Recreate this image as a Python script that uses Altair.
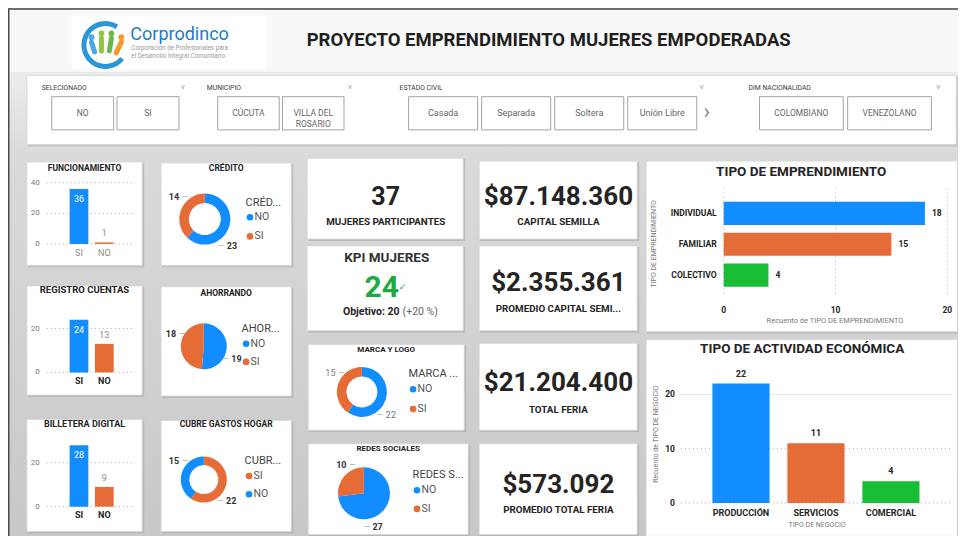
import altair as alt
import pandas as pd

# ---------------- data ----------------
slicer_titles = ["SELECIONADO", "MUNICIPIO", "ESTADO CIVIL", "DIM NACIONALIDAD"]
slicer_selecionado = ["NO", "SI"]
slicer_municipio = ["CÚCUTA", "VILLA DEL ROSARIO"]
slicer_estado_civil = ["Casada", "Separada", "Soltera", "Unión Libre"]
slicer_nacionalidad = ["COLOMBIANO", "VENEZOLANO"]

bar_cats = ["SI", "NO"]
funcionamiento = [36, 1]
registro_cuentas = [24, 13]
billetera_digital = [28, 9]
ticks_40 = [0, 20, 40]
ticks_20 = [0, 20]

pie_cats = ["NO", "SI"]
credito = [23, 14]
ahorrando = [19, 18]
cubre_cats = ["SI", "NO"]
cubre_gastos = [22, 15]
marca_logo = [22, 15]
redes_sociales = [27, 10]

mujeres_participantes = 37
kpi_actual = 24
kpi_objetivo = 20
capital_semilla = 87148360
promedio_capital = 2355361
total_feria = 21204400
promedio_feria = 573092

emp_cats = ["INDIVIDUAL", "FAMILIAR", "COLECTIVO"]
emp_vals = [18, 15, 4]
emp_ticks = [0, 10, 20]
act_cats = ["PRODUCCIÓN", "SERVICIOS", "COMERCIAL"]
act_vals = [22, 11, 4]
act_ticks = [0, 10, 20]

# ---------------- layout helpers ----------------
W, H = 950, 528


def X(rx):
    return round((rx - 8) * 0.994, 1)


def Y(ry):
    return round((ry - 8) * 0.975, 1)


FONT = "Roboto"
DARK = "#252423"
BLUE, ORANGE, GREEN = "#118DFF", "#E66C37", "#17BE36"
ONE = pd.DataFrame({"k": [0]})


def T(s, x, y, size=9, color=DARK, weight="normal", align="center", angle=0, font=FONT):
    return alt.Chart(ONE).mark_text(
        text=s, font=font, fontSize=size, color=color, fontWeight=weight,
        align=align, baseline="middle", angle=angle
    ).encode(x=alt.value(X(x)), y=alt.value(Y(y)))


def R(x0, y0, x1, y1, fill, stroke=None, sw=1.0, opacity=1.0):
    kw = {"fill": fill, "opacity": opacity}
    if stroke:
        kw.update(stroke=stroke, strokeWidth=sw)
    return alt.Chart(ONE).mark_rect(**kw).encode(
        x=alt.value(X(x0)), x2=alt.value(X(x1)), y=alt.value(Y(y0)), y2=alt.value(Y(y1))
    )


def LINE(x0, y0, x1, y1, color, sw=1.0, cap="butt"):
    return alt.Chart(ONE).mark_rule(color=color, strokeWidth=sw, strokeCap=cap).encode(
        x=alt.value(X(x0)), x2=alt.value(X(x1)), y=alt.value(Y(y0)), y2=alt.value(Y(y1))
    )


def card(x0, y0, x1, y1):
    return [R(x0 + 1, y0 + 1, x1 + 2, y1 + 2, "#a8a8a8", opacity=0.55),
            R(x0, y0, x1, y1, "white", stroke="#d6d6d6", sw=0.8)]


def money(v):
    return "$" + f"{v:,}".replace(",", ".")


layers = []

# ---------------- background ----------------
layers.append(alt.Chart(ONE).mark_rect(fill=alt.Gradient(
    gradient="linear", x1=0, x2=0, y1=0, y2=1,
    stops=[alt.GradientStop(offset=0, color="#ececec"),
           alt.GradientStop(offset=0.18, color="#dadada"),
           alt.GradientStop(offset=1, color="#c8c8c8")])).encode(
    x=alt.value(0), x2=alt.value(W), y=alt.value(Y(74)), y2=alt.value(H)))
layers.append(R(0, 9, 980, 74, "#f8f8f8"))
layers.append(alt.Chart(ONE).mark_rule(color="#4a4a4a", strokeWidth=1.5).encode(
    x=alt.value(0), x2=alt.value(W), y=alt.value(Y(9))))
layers.append(alt.Chart(ONE).mark_rule(color="#4a4a4a", strokeWidth=1.5).encode(
    x=alt.value(0.75), y=alt.value(Y(9)), y2=alt.value(H)))

# ---------------- logo ----------------
layers.append(R(72, 16, 268, 70, "white"))
layers.append(alt.Chart(ONE).mark_arc(theta=2.25, theta2=6.85, innerRadius=19, outerRadius=24,
                                      color="#2C96D6").encode(x=alt.value(X(106)), y=alt.value(Y(46))))
for hx, hy, col, bx, by in [(92, 38, "#4AA8E2", 95, 53), (102, 34, "#8DC63F", 102, 52),
                            (112, 34, "#6CB843", 110, 52), (122, 38, "#F39A2B", 117, 54)]:
    layers.append(LINE(hx, hy + 5, bx, by, col, sw=5, cap="round"))
    layers.append(alt.Chart(ONE).mark_circle(size=34, opacity=1, color=col).encode(
        x=alt.value(X(hx)), y=alt.value(Y(hy))))
layers.append(T("Corprodinco", 131, 36, size=18, color="#1E7DC4", align="left"))
layers.append(T("Corporación de Profesionales para", 132, 49, size=6.3, color="#9a9a9a", align="left"))
layers.append(T("el Desarrollo Integral Comunitario", 132, 57, size=6.3, color="#9a9a9a", align="left"))

layers.append(T("PROYECTO EMPRENDIMIENTO MUJERES EMPODERADAS", 552, 41, size=18.5,
                weight="bold", color="#1f1f1f"))

# ---------------- filter bar ----------------
layers.append(R(28, 78, 964, 150, "#b9b9b9", opacity=0.6))
layers.append(R(27, 77, 962, 148, "white", stroke="#d0d0d0", sw=0.8))


def slicer(title, items, tx, chev_x, x0, x1, pad, font_size=8.5):
    L = [T(title, tx, 90, size=6.8, color="#3a3a3a", align="left"),
         T("v", chev_x, 89, size=8, color="#9a9a9a")]
    df = pd.DataFrame({"item": items})
    xs = alt.Scale(type="band", domain=items, range=[X(x0), X(x1)], paddingInner=pad, paddingOuter=0)
    boxes = alt.Chart(df).mark_bar(fill="white", stroke="#a3a3a3", strokeWidth=1).encode(
        x=alt.X("item:N", scale=xs, axis=None), y=alt.value(Y(99)), y2=alt.value(Y(133)))
    labels = alt.Chart(df).transform_calculate(
        lab="replace(datum.item, 'DEL ', 'DEL\\n')").mark_text(
        font=FONT, fontSize=font_size, color="#666666", lineBreak="\n", baseline="middle").encode(
        x=alt.X("item:N", scale=xs, axis=None), y=alt.value(Y(116)), text="lab:N")
    return alt.layer(*L, boxes, labels)


layers.append(slicer(slicer_titles[0], slicer_selecionado, 42, 184, 52, 180, 0.05))
layers.append(slicer(slicer_titles[1], slicer_municipio, 208, 352, 219, 346, 0.05))
layers.append(slicer(slicer_titles[2], slicer_estado_civil, 402, 706, 411, 701, 0.055, font_size=9))
layers.append(slicer(slicer_titles[3], slicer_nacionalidad, 753, 944, 764, 937, 0.05))
layers.append(T("›", 711, 115, size=22, color="#8a8a8a"))


# ---------------- small bar panels ----------------
def vbar_small(title, tsize, tyy, vals, ticks, ymap, box, lab_y, lab_bold):
    (v0, p0), (v1, p1) = ymap
    ys = alt.Scale(domain=[v0, v1], range=[Y(p0), Y(p1)], nice=False, zero=False)
    xs = alt.Scale(type="band", domain=bar_cats, range=[X(70), X(114.3)], paddingInner=0.26, paddingOuter=0)
    cs = alt.Scale(domain=bar_cats, range=[BLUE, ORANGE])
    df = pd.DataFrame({"c": bar_cats, "v": vals})
    tdf = pd.DataFrame({"t": ticks})
    L = card(*box)
    L.append(T(title, (box[0] + box[2]) / 2, tyy, size=tsize, weight="bold"))
    grid = alt.Chart(tdf).mark_rule(color="#a8a8a8", strokeDash=[1, 3], strokeWidth=1).encode(
        y=alt.Y("t:Q", scale=ys, axis=None), x=alt.value(X(47)), x2=alt.value(X(136)))
    tl = alt.Chart(tdf).mark_text(align="right", baseline="middle", font=FONT, fontSize=8,
                                  color="#7a7a7a").encode(
        y=alt.Y("t:Q", scale=ys, axis=None), x=alt.value(X(40)), text="t:Q")
    bars = alt.Chart(df).mark_bar().encode(
        x=alt.X("c:N", scale=xs, axis=None), y=alt.Y("v:Q", scale=ys, axis=None),
        color=alt.Color("c:N", scale=cs, legend=None))
    inside = alt.Chart(df).transform_filter(alt.datum.c == bar_cats[0]).mark_text(
        dy=10, color="white", font=FONT, fontSize=9, baseline="middle").encode(
        x=alt.X("c:N", scale=xs, axis=None), y=alt.Y("v:Q", scale=ys, axis=None), text="v:Q")
    outside = alt.Chart(df).transform_filter(alt.datum.c != bar_cats[0]).mark_text(
        dy=-9, color="#8a8a8a", font=FONT, fontSize=9, baseline="middle").encode(
        x=alt.X("c:N", scale=xs, axis=None), y=alt.Y("v:Q", scale=ys, axis=None), text="v:Q")
    xl = alt.Chart(df).mark_text(font=FONT, fontSize=9, baseline="middle",
                                 color=DARK if lab_bold else "#8a8a8a",
                                 fontWeight="bold" if lab_bold else "normal").encode(
        x=alt.X("c:N", scale=xs, axis=None), y=alt.value(Y(lab_y)), text="c:N")
    return alt.layer(*L, grid, tl, bars, inside, outside, xl)


layers.append(vbar_small("FUNCIONAMIENTO", 8.5, 172, funcionamiento, ticks_40,
                         ((0, 250), (40, 187.3)), (27, 166, 143, 272), 259, False))
layers.append(vbar_small("REGISTRO CUENTAS", 9.5, 297.5, registro_cuentas, ticks_20,
                         ((0, 381.7), (20, 336.7)), (27, 293, 143, 405), 390.7, True))
layers.append(vbar_small("BILLETERA DIGITAL", 9, 435, billetera_digital, ticks_20,
                         ((0, 519.5), (20, 474.5)), (27, 430, 143, 545), 528, True))


# ---------------- donut / pie panels ----------------
LABEL_FRACTION = 0.6  # where along each slice the outside label sits


def donut(title, tsize, tyy, cats, vals, box, c, r_out, r_in, lab_r, lab_bold, ltitle, lx, lty, ly0, ly1):
    cx, cy = c
    total = sum(vals)
    cs = alt.Scale(domain=["NO", "SI"], range=[BLUE, ORANGE])
    ths = alt.Scale(domain=[0, total])
    df = pd.DataFrame({"c": cats, "v": vals, "o": list(range(len(cats)))})
    L = card(*box)
    L.append(T(title, (box[0] + box[2]) / 2, tyy, size=tsize, weight="bold"))
    arcs = alt.Chart(df).mark_arc(outerRadius=r_out, innerRadius=r_in).encode(
        theta=alt.Theta("v:Q", stack=True, scale=ths), order=alt.Order("o:Q"),
        color=alt.Color("c:N", scale=cs, legend=None),
        x=alt.value(X(cx)), y=alt.value(Y(cy)))
    lab_base = alt.Chart(df).transform_window(
        cum="sum(v)", sort=[alt.SortField("o")], frame=[None, 0]
    ).transform_calculate(
        pos=f"datum.cum - datum.v + {LABEL_FRACTION} * datum.v"
    )
    enc = dict(theta=alt.Theta("pos:Q", stack=False, scale=ths),
               x=alt.value(X(cx)), y=alt.value(Y(cy)))
    labs = lab_base.mark_text(radius=lab_r, font=FONT, fontSize=9, baseline="middle",
                              color="#333333" if lab_bold else "#7a7a7a",
                              fontWeight="bold" if lab_bold else "normal").encode(text="v:Q", **enc)
    # short leader strokes beside each label (left-side labels get it on the right, and vice versa)
    lead_l = lab_base.transform_filter(f"datum.pos > {total / 2}").mark_text(
        radius=lab_r, dx=11, text="—", font=FONT, fontSize=8, color="#9a9a9a",
        baseline="middle").encode(**enc)
    lead_r = lab_base.transform_filter(f"datum.pos <= {total / 2}").mark_text(
        radius=lab_r, dx=-11, text="—", font=FONT, fontSize=8, color="#9a9a9a",
        baseline="middle").encode(**enc)
    ldf = pd.DataFrame({"c": cats})
    lys = alt.Scale(type="point", domain=cats, range=[Y(ly0), Y(ly1)], padding=0)
    dots = alt.Chart(ldf).mark_circle(size=44, opacity=1).encode(
        x=alt.value(X(lx + 4.5)), y=alt.Y("c:N", scale=lys, axis=None),
        color=alt.Color("c:N", scale=cs, legend=None))
    ltx = alt.Chart(ldf).mark_text(align="left", baseline="middle", font=FONT, fontSize=10.5,
                                   color="#555555").encode(
        x=alt.value(X(lx + 9)), y=alt.Y("c:N", scale=lys, axis=None), text="c:N")
    lt = T(ltitle, lx, lty, size=11, color="#444444", align="left")
    return alt.layer(*L, arcs, lead_l, lead_r, labs, lt, dots, ltx)


layers.append(donut("CRÉDITO", 8.5, 172, pie_cats, credito, (162, 167, 293, 272), (206, 224.5),
                    25.5, 16, 38, True, "CRÉD...", 247, 208, 222.7, 242.3))
layers.append(donut("AHORRANDO", 8.5, 300, pie_cats, ahorrando, (162, 294, 293, 406), (205, 355),
                    23, 0, 35, True, "AHOR...", 243, 337, 352.3, 371))
layers.append(donut("CUBRE GASTOS HOGAR", 8.5, 435, cubre_cats, cubre_gastos, (162, 431, 293, 545),
                    (205, 491.7), 23, 14.5, 35, True, "CUBR...", 246, 473, 488, 506.7))
layers.append(donut("MARCA Y LOGO", 8, 359, pie_cats, marca_logo, (310, 353, 467, 441), (364, 401.7),
                    25, 15.5, 37, False, "MARCA ...", 411, 383.3, 399, 419.3))
layers.append(donut("REDES SOCIALES", 8, 460.7, pie_cats, redes_sociales, (310, 455, 471, 548),
                    (366, 505.7), 26, 0, 36, True, "REDES S...", 415, 486.7, 502.7, 521.7))

# ---------------- KPI cards ----------------
for b in [(309, 162, 466, 245), (309, 252, 466, 339), (482, 165, 641, 245),
          (482, 252, 641, 339), (482, 352, 641, 441), (482, 455, 641, 548)]:
    layers.extend(card(*b))

layers.append(T(str(mujeres_participantes), 388, 201.5, size=25, weight="bold"))
layers.append(T("MUJERES PARTICIPANTES", 388, 227.7, size=9.8, weight="bold"))

layers.append(T("KPI MUJERES", 389, 264.3, size=13.5, weight="bold", color="#333333"))
layers.append(T(str(kpi_actual), 384, 295.5, size=30, weight="bold", color="#1DAA3F"))
layers.append(T("✓", 405, 294, size=9, color="#1DAA3F", font="DejaVu Sans"))
pct = round((kpi_actual - kpi_objetivo) / kpi_objetivo * 100)
layers.append(T(f"Objetivo: {kpi_objetivo}", 402, 320, size=10.5, weight="bold", align="right"))
layers.append(T(f"(+{pct} %)", 405, 320, size=10.5, color="#666666", align="left"))

for val, lab, yv, yl in [(capital_semilla, "CAPITAL SEMILLA", 201.5, 227.7),
                         (promedio_capital, "PROMEDIO CAPITAL SEMI...", 290, 316.7),
                         (total_feria, "TOTAL FERIA", 392.3, 420),
                         (promedio_feria, "PROMEDIO TOTAL FERIA", 496.7, 523.3)]:
    layers.append(T(money(val), 561.7, yv, size=26, weight="bold"))
    layers.append(T(lab, 561.7, yl, size=9.8, weight="bold"))


# ---------------- TIPO DE EMPRENDIMIENTO ----------------
def emp_panel():
    L = card(650, 165, 963, 340)
    L.append(T("TIPO DE EMPRENDIMIENTO", 806, 175.7, size=13.5, weight="bold"))
    L.append(T("TIPO DE EMPRENDIMIENTO", 658, 250, size=7, color="#7a7a7a", angle=270))
    L.append(T("Recuento de TIPO DE EMPRENDIMIENTO", 840, 329, size=7.5, color="#7a7a7a"))
    xs = alt.Scale(domain=[0, 20], range=[X(728), X(953)], nice=False, zero=False)
    ys = alt.Scale(type="band", domain=emp_cats, range=[Y(206.7), Y(294)], paddingInner=0.25, paddingOuter=0)
    cs = alt.Scale(domain=emp_cats, range=[BLUE, ORANGE, GREEN])
    df = pd.DataFrame({"c": emp_cats, "v": emp_vals})
    tdf = pd.DataFrame({"t": emp_ticks})
    grid = alt.Chart(tdf).mark_rule(color="#b0b0b0", strokeDash=[1, 3], strokeWidth=1).encode(
        x=alt.X("t:Q", scale=xs, axis=None), y=alt.value(Y(193)), y2=alt.value(Y(303)))
    tl = alt.Chart(tdf).mark_text(font=FONT, fontSize=8.5, fontWeight="bold", color=DARK,
                                  baseline="middle").encode(
        x=alt.X("t:Q", scale=xs, axis=None), y=alt.value(Y(317.7)), text="t:Q")
    bars = alt.Chart(df).mark_bar().encode(
        x=alt.X("v:Q", scale=xs, axis=None), y=alt.Y("c:N", scale=ys, axis=None),
        color=alt.Color("c:N", scale=cs, legend=None))
    vl = alt.Chart(df).mark_text(align="left", dx=7, baseline="middle", font=FONT, fontSize=8.5,
                                 fontWeight="bold", color=DARK).encode(
        x=alt.X("v:Q", scale=xs, axis=None), y=alt.Y("c:N", scale=ys, axis=None), text="v:Q")
    cl = alt.Chart(df).mark_text(align="right", baseline="middle", font=FONT, fontSize=8.5,
                                 fontWeight="bold", color=DARK).encode(
        x=alt.value(X(721)), y=alt.Y("c:N", scale=ys, axis=None), text="c:N")
    return alt.layer(*L, grid, tl, bars, vl, cl)


layers.append(emp_panel())


# ---------------- TIPO DE ACTIVIDAD ECONÓMICA ----------------
def act_panel():
    L = card(650, 348, 963, 550)
    L.append(T("TIPO DE ACTIVIDAD ECONÓMICA", 807, 358, size=13.5, weight="bold"))
    L.append(T("Recuento de TIPO DE NEGOCIO", 660, 445, size=7, color="#7a7a7a", angle=270))
    L.append(T("TIPO DE NEGOCIO", 822, 537.7, size=7, color="#7a7a7a"))
    ys = alt.Scale(domain=[0, 20], range=[Y(515.7), Y(404.3)], nice=False, zero=False)
    xs = alt.Scale(type="band", domain=act_cats, range=[X(716.7), X(925)], paddingInner=0.238, paddingOuter=0)
    cs = alt.Scale(domain=act_cats, range=[BLUE, ORANGE, GREEN])
    df = pd.DataFrame({"c": act_cats, "v": act_vals})
    tdf = pd.DataFrame({"t": act_ticks})
    grid = alt.Chart(tdf).mark_rule(color="#a8a8a8", strokeDash=[1, 3], strokeWidth=1).encode(
        y=alt.Y("t:Q", scale=ys, axis=None), x=alt.value(X(685)), x2=alt.value(X(958)))
    tl = alt.Chart(tdf).mark_text(align="right", baseline="middle", font=FONT, fontSize=8.5,
                                  fontWeight="bold", color=DARK).encode(
        y=alt.Y("t:Q", scale=ys, axis=None), x=alt.value(X(679)), text="t:Q")
    bars = alt.Chart(df).mark_bar().encode(
        x=alt.X("c:N", scale=xs, axis=None), y=alt.Y("v:Q", scale=ys, axis=None),
        color=alt.Color("c:N", scale=cs, legend=None))
    vl = alt.Chart(df).mark_text(dy=-10, baseline="middle", font=FONT, fontSize=9,
                                 fontWeight="bold", color=DARK).encode(
        x=alt.X("c:N", scale=xs, axis=None), y=alt.Y("v:Q", scale=ys, axis=None), text="v:Q")
    cl = alt.Chart(df).mark_text(baseline="middle", font=FONT, fontSize=9,
                                 fontWeight="bold", color=DARK).encode(
        x=alt.X("c:N", scale=xs, axis=None), y=alt.value(Y(525.7)), text="c:N")
    return alt.layer(*L, grid, tl, bars, vl, cl)


layers.append(act_panel())

chart = alt.layer(*layers).resolve_scale(
    x="independent", y="independent", color="independent", theta="independent"
).properties(
    width=W, height=H, autosize=alt.AutoSizeParams(type="none"), padding=0, background="#cfcfcf"
).configure_view(strokeWidth=0)

chart.save("out.html", embed_options={"renderer": "svg", "actions": False})
